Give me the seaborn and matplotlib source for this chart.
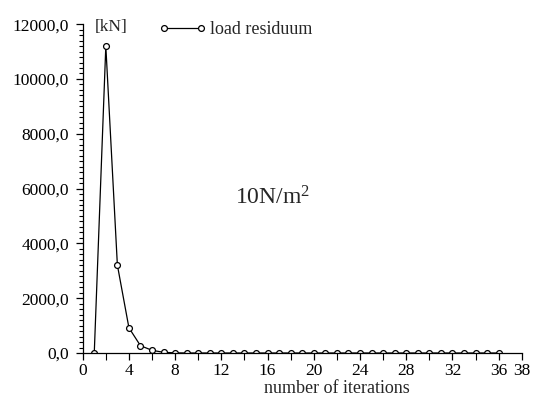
import matplotlib
matplotlib.use("Agg")
import matplotlib.pyplot as plt
import numpy as np
import pandas as pd
import seaborn as sns
from matplotlib.ticker import FuncFormatter, MultipleLocator

# values
iterations = list(range(1, 37))
load_residuum = [0, 11200, 3210, 920, 266, 98, 25, 5, 0, 0, 0, 0,
                 0, 0, 0, 0, 0, 0, 0, 0, 0, 0, 0, 0,
                 0, 0, 0, 0, 0, 0, 0, 0, 0, 0, 0, 0]
x_ticks = [0, 4, 8, 12, 16, 20, 24, 28, 32, 36, 38]
y_ticks = [0, 2000, 4000, 6000, 8000, 10000, 12000]

sns.set_style("ticks")
plt.rcParams["font.family"] = ["Liberation Serif", "DejaVu Serif"]
plt.rcParams["mathtext.fontset"] = "custom"
plt.rcParams["mathtext.rm"] = "Liberation Serif"
plt.rcParams["mathtext.it"] = "Liberation Serif:italic"

df = pd.DataFrame({"iteration": iterations, "residuum": load_residuum})

fig = plt.figure(figsize=(5.42, 3.96), dpi=100)
ax = fig.add_axes([0.1526, 0.1086, 0.81, 0.8304])

sns.lineplot(data=df, x="iteration", y="residuum", ax=ax, color="black",
             linewidth=0.9, marker="o", markersize=4.2, markerfacecolor="white",
             markeredgecolor="black", markeredgewidth=0.9, label="load residuum")

ax.set_xlim(0, 38)
ax.set_ylim(0, 12000)
ax.set_xticks(x_ticks)
ax.set_yticks(y_ticks)
ax.xaxis.set_minor_locator(MultipleLocator(2))
ax.yaxis.set_minor_locator(MultipleLocator(200))
ax.yaxis.set_major_formatter(FuncFormatter(lambda v, p: f"{v:.1f}".replace(".", ",")))
ax.tick_params(axis="both", which="major", length=5, width=0.9, labelsize=12.5,
               color="black", labelcolor="black")
ax.tick_params(axis="x", which="major", pad=2)
ax.tick_params(axis="y", which="major", pad=5)
ax.tick_params(axis="both", which="minor", length=3, width=0.8, color="black")
ax.tick_params(axis="x", which="minor", length=5)

for side in ("top", "right"):
    ax.spines[side].set_visible(False)
for side in ("left", "bottom"):
    ax.spines[side].set_color("black")
    ax.spines[side].set_linewidth(0.9)

ax.set_xlabel("number of iterations", fontsize=13)
ax.xaxis.set_label_coords(0.578, -0.082)
ax.set_ylabel("")

fig.text(111 / 542, 1 - 27 / 396, "[kN]", fontsize=12.5, ha="center", va="center")
fig.text(235 / 542, 1 - 198 / 396, "10N/m$^{2}$", fontsize=17, ha="left", va="center")

ax.legend(loc="center left", bbox_to_anchor=(158.6 / 542, 1 - 30 / 396),
          bbox_transform=fig.transFigure, frameon=False, fontsize=13,
          handlelength=2.65, handletextpad=0.2, numpoints=2, borderpad=0,
          borderaxespad=0)

fig.savefig("out.png", dpi=100)
